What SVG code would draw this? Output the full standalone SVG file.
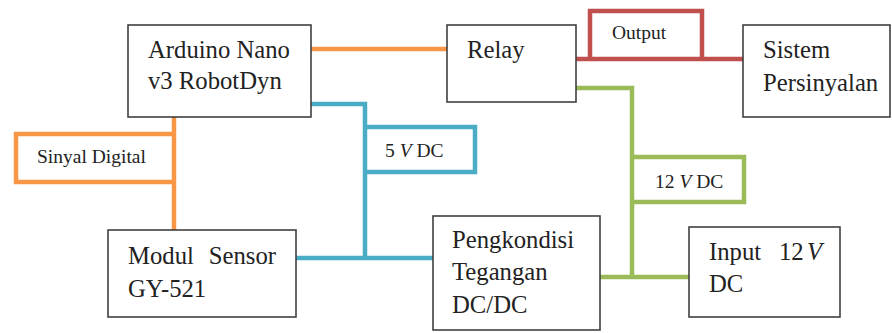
<svg xmlns="http://www.w3.org/2000/svg" width="892" height="333" viewBox="0 0 892 333">
<style>
.box{fill:#fff;stroke:#404040;stroke-width:1.6}
.t{font-family:"Liberation Serif","Times New Roman",serif;font-size:24.7px;fill:#222}
.s{font-family:"Liberation Serif","Times New Roman",serif;font-size:19.5px;fill:#222}
.c{fill:none;stroke-width:4.5;stroke-linejoin:miter}
.or{stroke:#F79646}.bl{stroke:#4BACC6}.rd{stroke:#C0504D}.gr{stroke:#9BBB59}
</style>
<rect width="892" height="333" fill="#fff"/>
<g id="connectors">
<path class="c or" d="M311,49 H447"/>
<path class="c or" d="M174,117 V230"/>
<path class="c or" d="M174,134 H16 V182 H174"/>
<path class="c rd" d="M576,59 H743"/>
<path class="c rd" d="M590,59 V11 H702 V59"/>
<path class="c bl" d="M311,104 H365 V258"/>
<path class="c bl" d="M365,127 H475 V172 H365"/>
<path class="c bl" d="M296,258 H433"/>
<path class="c gr" d="M576,88 H632 V277"/>
<path class="c gr" d="M632,157 H744 V202 H632"/>
<path class="c gr" d="M600,277 H689"/>
<text class="s" x="612" y="39">Output</text>
<text class="s" x="37" y="163">Sinyal Digital</text>
<text class="s" x="385" y="157">5 <tspan font-style="italic">V</tspan> DC</text>
<text class="s" x="655" y="188">12 <tspan font-style="italic">V</tspan> DC</text>
</g>
<g id="arduino">
<rect class="box" x="128" y="25" width="183" height="92"/>
<text class="t" x="148" y="58">Arduino Nano</text>
<text class="t" x="148" y="89">v3 RobotDyn</text>
</g>
<g id="relay">
<rect class="box" x="447" y="25" width="129" height="77"/>
<text class="t" x="467" y="58">Relay</text>
</g>
<g id="sistem">
<rect class="box" x="743" y="25" width="147" height="92"/>
<text class="t" x="763" y="58">Sistem</text>
<text class="t" x="763" y="91">Persinyalan</text>
</g>
<g id="modul">
<rect class="box" x="108" y="230" width="188" height="87"/>
<text class="t" x="128" y="264">Modul</text>
<text class="t" x="276" y="264" text-anchor="end">Sensor</text>
<text class="t" x="128" y="297">GY-521</text>
</g>
<g id="pengkondisi">
<rect class="box" x="433" y="216" width="167" height="114"/>
<text class="t" x="452" y="248">Pengkondisi</text>
<text class="t" x="452" y="280">Tegangan</text>
<text class="t" x="452" y="313">DC/DC</text>
</g>
<g id="input">
<rect class="box" x="689" y="227" width="151" height="90"/>
<text class="t" x="709" y="260">Input</text>
<text class="t" x="779" y="260">12</text>
<text class="t" x="807" y="260" font-style="italic">V</text>
<text class="t" x="709" y="292">DC</text>
</g>
</svg>
